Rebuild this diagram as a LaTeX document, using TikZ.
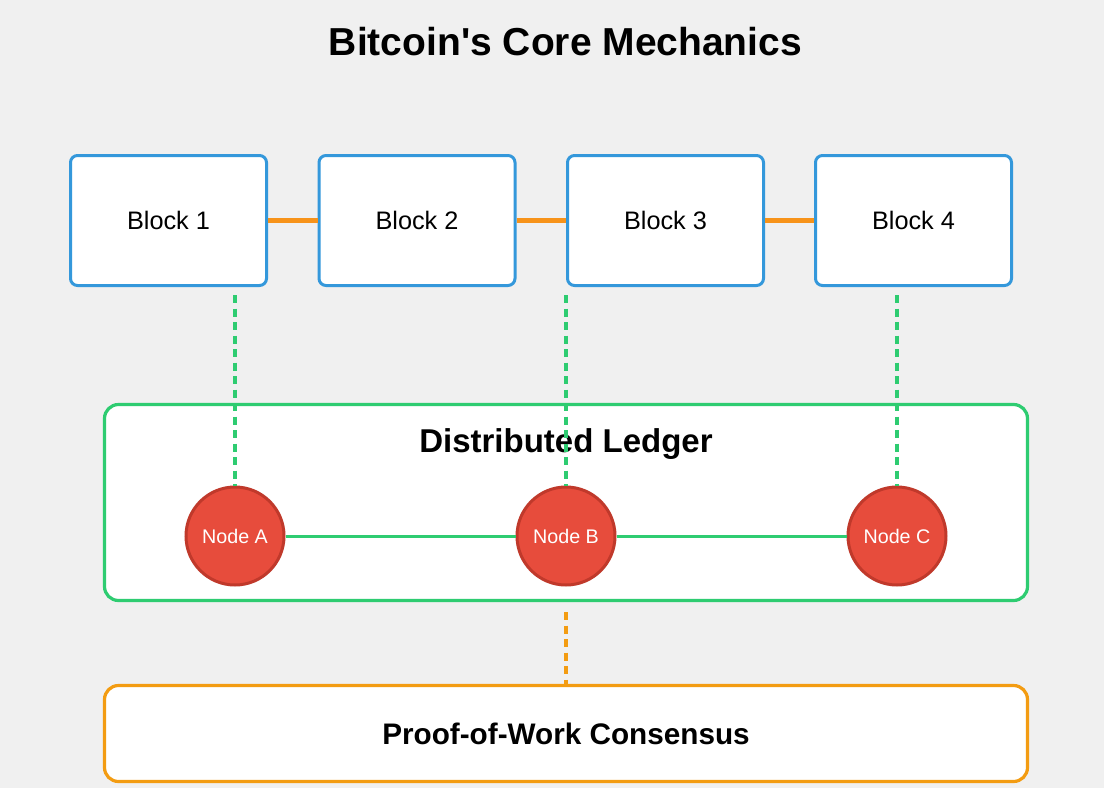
\documentclass[tikz,border=0pt]{standalone}
\usepackage{fontspec}
\setmainfont{Liberation Sans}[Ligatures=TeXOff]
\definecolor{bgc}{HTML}{F0F0F0}
\definecolor{blockblue}{HTML}{3498DB}
\definecolor{chainorange}{HTML}{F7931A}
\definecolor{ledgergreen}{HTML}{2ECC71}
\definecolor{nodered}{HTML}{E74C3C}
\definecolor{nodeborder}{HTML}{C0392B}
\definecolor{powOrange}{HTML}{F39C12}
\tikzset{
  blockbox/.style={draw=blockblue, line width=3pt, fill=white, rounded corners=7pt,
    minimum width=196pt, minimum height=130pt, inner sep=0pt,
    font=\fontsize{25.3}{30}\selectfont},
  chainlink/.style={draw=chainorange, line width=4.2pt},
  bigbox/.style={fill=white, line width=3.2pt, rounded corners=14pt,
    minimum width=923pt, inner sep=0pt},
  peer/.style={circle, fill=nodered, draw=nodeborder, line width=3pt,
    minimum size=98pt, inner sep=0pt, text=white,
    font=\fontsize{19.7}{23}\selectfont},
  peerlink/.style={draw=ledgergreen, line width=3pt},
  greendash/.style={draw=ledgergreen, line width=3.3pt, dash pattern=on 8pt off 5.5pt},
  orangedash/.style={draw=powOrange, line width=3.3pt, dash pattern=on 8pt off 5.5pt},
}
\begin{document}
\begin{tikzpicture}[x=1pt,y=-1pt]
\useasboundingbox[fill=bgc] (0,0) rectangle (1104,788);
% title
\node[anchor=base, inner sep=0pt, font=\bfseries\fontsize{39}{44}\selectfont] (title) at (565.5,55) {Bitcoin's Core Mechanics};
% blocks
\node[blockbox] (b1) at (168.5,220.5) {Block 1};
\node[blockbox] (b2) at (417,220.5) {Block 2};
\node[blockbox] (b3) at (665.5,220.5) {Block 3};
\node[blockbox] (b4) at (913.5,220.5) {Block 4};
\draw[chainlink] (b1.east) -- (b2.west);
\draw[chainlink] (b2.east) -- (b3.west);
\draw[chainlink] (b3.east) -- (b4.west);
% ledger
\node[bigbox, draw=ledgergreen, minimum height=196pt] (ledger) at (566,502.5) {};
\node[anchor=base, inner sep=0pt, font=\bfseries\fontsize{33}{38}\selectfont] (ledgertitle) at (566,452) {Distributed Ledger};
% peers
\node[peer] (na) at (235,536) {Node A};
\node[peer] (nb) at (566,536) {Node B};
\node[peer] (nc) at (897,536) {Node C};
\draw[peerlink] (na.east) -- (nb.west);
\draw[peerlink] (nb.east) -- (nc.west);
% block to node dashed links
\draw[greendash] ([yshift=-8pt]na.north |- b1.south) -- (na.north);
\draw[greendash] ([yshift=-8pt]nb.north |- b3.south) -- (nb.north);
\draw[greendash] ([yshift=-8pt]nc.north |- b4.south) -- (nc.north);
% consensus
\node[bigbox, draw=powOrange, minimum height=96pt, font=\bfseries\fontsize{29.7}{35}\selectfont] (pow) at (566,733.5) {Proof-of-Work Consensus};
\draw[orangedash] ([yshift=-10pt]nb.south |- ledger.south) -- (pow.north);
\end{tikzpicture}
\end{document}
